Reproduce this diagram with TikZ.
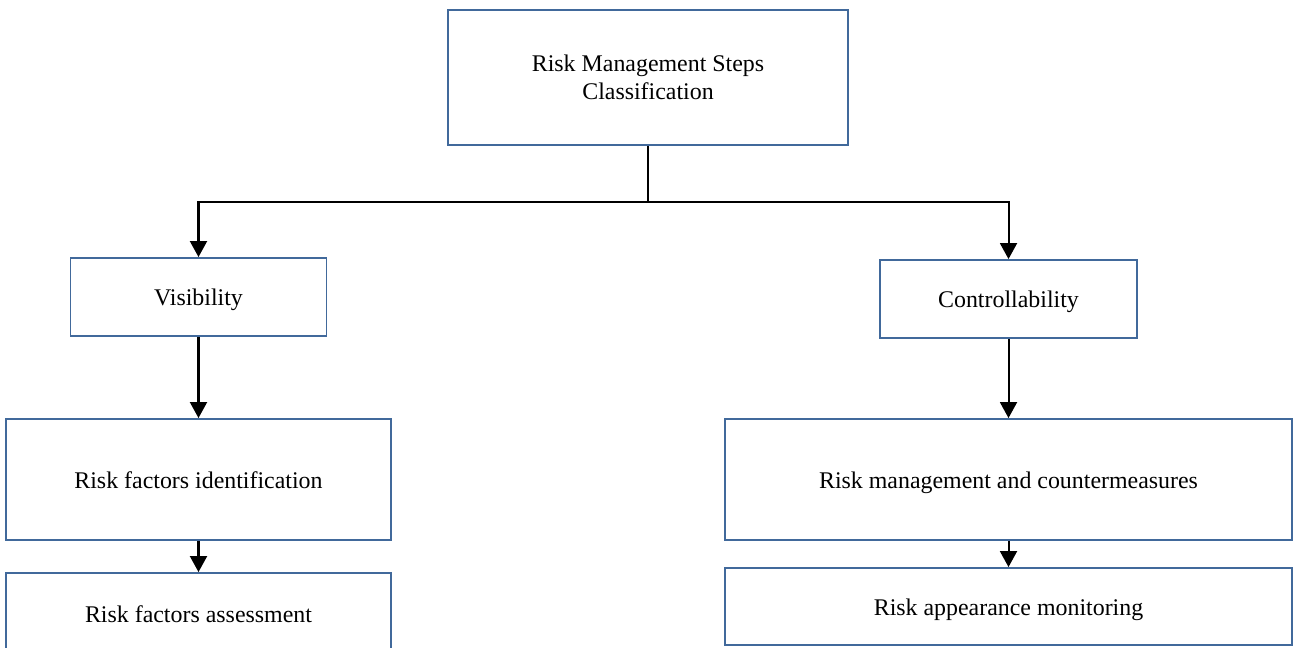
\documentclass[tikz,border=0pt]{standalone}
\usepackage{fontspec}
\setmainfont{Liberation Serif}
\usetikzlibrary{arrows.meta}
\definecolor{boxblue}{RGB}{65,105,155}

\begin{document}
\begin{tikzpicture}[x=0.02cm, y=-0.02cm,
    box/.style={draw=boxblue, line width=1.1pt, align=center, inner sep=0pt,
        font=\fontsize{13.6}{16}\selectfont},
    oneline/.style={box, text height=10pt, text depth=0pt},
    arr/.style={line width=1.15pt, -{Triangle[width=0.34cm, length=0.32cm]}}]
    \def\u{0.02cm} % one pixel of the original
    \def\lx{198.5} % centre of the left column
    \def\rx{1008.5} % centre of the right column

    \clip (0,0) rectangle (1293,647);

    \node[box, minimum width=400*\u, minimum height=135*\u] (steps) at (648,77.5) {Risk Management Steps\\Classification};

    \node[oneline, minimum width=256*\u, minimum height=78*\u] (vis) at (\lx,297) {Visibility};
    \node[oneline, minimum width=257*\u, minimum height=78*\u] (ctrl) at (\rx,299) {Controllability};

    \node[oneline, minimum width=385*\u, minimum height=121*\u] (ident) at (\lx,479.5) {Risk factors identification};
    \node[oneline, minimum width=385*\u, minimum height=82*\u] (assess) at (\lx,614) {Risk factors assessment};

    \node[oneline, minimum width=567*\u, minimum height=121*\u] (counter) at (\rx,479.5) {Risk management and countermeasures};
    \node[oneline, minimum width=567*\u, minimum height=77*\u] (monitor) at (\rx,606.5) {Risk appearance monitoring};

    \coordinate (split) at (648,202);
    \draw[line width=1.15pt] (steps.south) -- (split);
    \draw[arr] (split) -| (vis.north);
    \draw[arr] (split) -| (ctrl.north);

    \draw[arr] (vis) -- (ident);
    \draw[arr] (ident) -- (assess);
    \draw[arr] (ctrl) -- (counter);
    \draw[arr] (counter) -- (monitor);

\end{tikzpicture}
\end{document}
